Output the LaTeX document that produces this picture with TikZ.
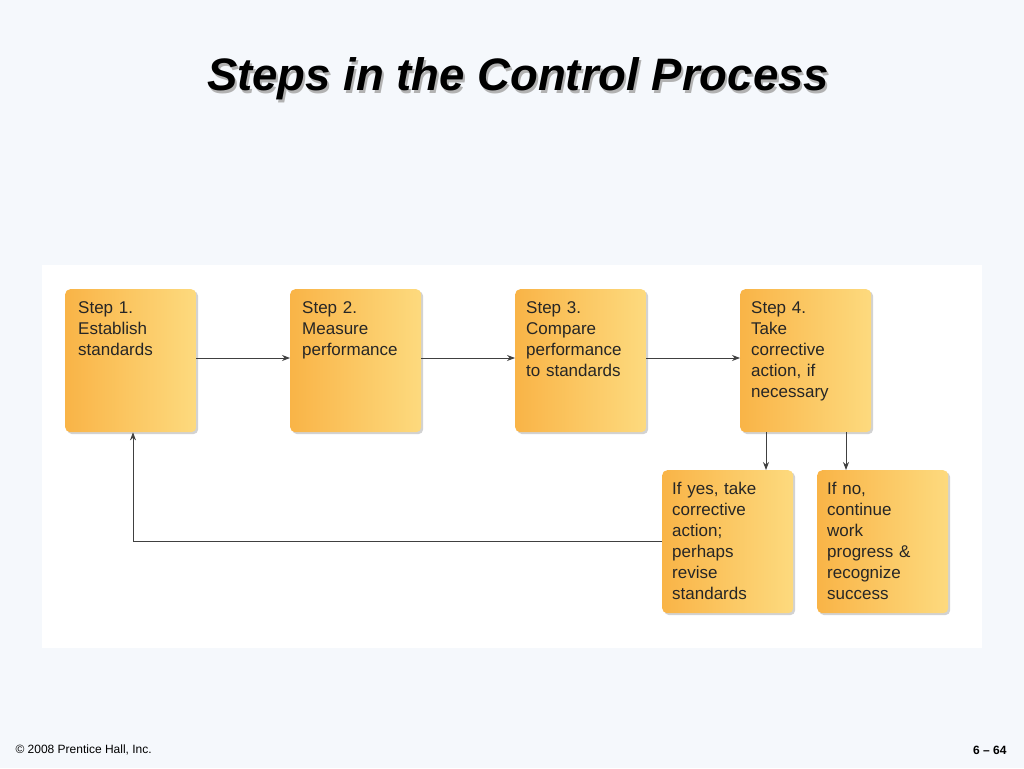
\documentclass[tikz,border=0pt]{standalone}
\usepackage{fontspec}
\setmainfont{Liberation Sans}
\usetikzlibrary{arrows.meta,shadows}
\definecolor{bg}{HTML}{F5F8FC}
\definecolor{oL}{HTML}{F9B447}
\definecolor{oR}{HTML}{FDDA7E}
\tikzset{
 box/.style={rounded corners=5pt,left color=oL,right color=oR,draw=none,
   drop shadow={shadow xshift=2pt,shadow yshift=-2pt,opacity=0.35},
   minimum width=131pt,minimum height=143pt,anchor=north west},
 lbl/.style={anchor=north west,inner sep=0pt,text width=125pt,align=left,
   font=\fontsize{17}{21}\selectfont,text=black!85},
 arr/.style={-{Stealth[length=8pt,width=6pt]},draw=black!75,line width=0.8pt}
}
\begin{document}
\begin{tikzpicture}[x=1pt,y=-1pt]
\fill[bg] (0,0) rectangle (1024,768);
\useasboundingbox (0,0) rectangle (1024,768);
\node (title) at (518,80) {\fontsize{45.5}{47}\selectfont\bfseries\itshape
  \rlap{\kern2pt\raisebox{-2.5pt}{\color{gray!60}Steps in the Control Process}}Steps in the Control Process};
\fill[white] (42,265) rectangle (982,648);
\node[box] (s1) at (65,289) {};
\node[box] (s2) at (290,289) {};
\node[box] (s3) at (515,289) {};
\node[box] (s4) at (740,289) {};
\node[box] (y) at (662,470) {};
\node[box] (n) at (817,470) {};
\node[lbl] (t1) at ([shift={(13,12)}]s1.north west) {Step 1.\\Establish\\standards};
\node[lbl] (t2) at ([shift={(12,12)}]s2.north west) {Step 2.\\Measure\\performance};
\node[lbl] (t3) at ([shift={(11,12)}]s3.north west) {Step 3.\\Compare\\performance\\to standards};
\node[lbl] (t4) at ([shift={(11,12)}]s4.north west) {Step 4.\\Take\\corrective\\action, if\\necessary};
\node[lbl] (ty) at ([shift={(10,12)}]y.north west) {If yes, take\\corrective\\action;\\perhaps\\revise\\standards};
\node[lbl] (tn) at ([shift={(10,12)}]n.north west) {If no,\\continue\\work\\progress \&\\recognize\\success};
\draw[arr] (s1.east|-0,358) -- (s2.west|-0,358);
\draw[arr] (s2.east|-0,358) -- (s3.west|-0,358);
\draw[arr] (s3.east|-0,358) -- (s4.west|-0,358);
\draw[arr] (766,432) -- (y.north-|766,0);
\draw[arr] (846,432) -- (n.north-|846,0);
\draw[arr] (y.west|-0,541) -- (133,541) -- (s1.south-|133,0);
\node[anchor=west] (c) at (12,750) {\fontsize{12}{14}\selectfont © 2008 Prentice Hall, Inc.};
\node[anchor=east] (p) at (1010,750) {\fontsize{12}{14}\selectfont\bfseries 6 – 64};
\end{tikzpicture}
\end{document}
